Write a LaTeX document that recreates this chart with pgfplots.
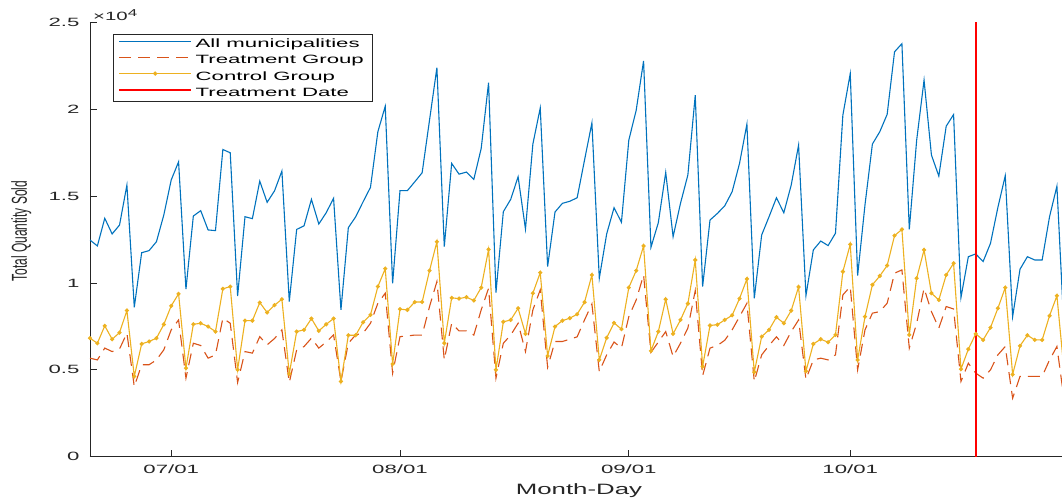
\documentclass[border=0pt]{standalone}
\usepackage{pgfplots}
\pgfplotsset{compat=1.18}
\usepackage{pgfplotstable}
\usepackage{fontspec}
\setmainfont{Liberation Sans}
\usetikzlibrary{calc}
\definecolor{mblue}{rgb}{0,0.447,0.741}
\definecolor{morange}{rgb}{0.85,0.325,0.098}
\definecolor{myellow}{rgb}{0.929,0.694,0.125}
\definecolor{mred}{RGB}{255,0,0}
\definecolor{axgray}{rgb}{0.15,0.15,0.15}

% d = days since 06/20 ; B = all municipalities, T = treatment, C = control (x 10^4)
\pgfplotstableread{
d B T C
0 1.247 0.567 0.682
1 1.213 0.557 0.653
2 1.372 0.625 0.753
3 1.282 0.605 0.676
4 1.333 0.620 0.714
5 1.563 0.711 0.841
6 0.860 0.404 0.462
7 1.174 0.529 0.649
8 1.186 0.529 0.663
9 1.237 0.557 0.682
10 1.391 0.615 0.761
11 1.592 0.730 0.868
12 1.697 0.787 0.937
13 0.964 0.452 0.510
14 1.385 0.653 0.762
15 1.416 0.640 0.768
16 1.305 0.567 0.749
17 1.301 0.586 0.720
18 1.768 0.797 0.966
19 1.749 0.768 0.979
20 0.925 0.427 0.500
21 1.381 0.605 0.783
22 1.370 0.596 0.783
23 1.586 0.691 0.887
24 1.464 0.644 0.830
25 1.530 0.680 0.872
26 1.644 0.730 0.906
27 0.893 0.427 0.477
28 1.308 0.615 0.720
29 1.329 0.634 0.730
30 1.481 0.682 0.795
31 1.339 0.625 0.724
32 1.404 0.660 0.762
33 1.487 0.701 0.795
34 0.845 0.433 0.433
35 1.318 0.653 0.699
36 1.381 0.701 0.699
37 1.467 0.711 0.774
38 1.550 0.768 0.816
39 1.870 0.883 0.979
40 2.017 0.941 1.082
41 0.998 0.481 0.533
42 1.531 0.691 0.849
43 1.531 0.695 0.845
44 1.582 0.700 0.890
45 1.634 0.700 0.890
46 1.937 0.864 1.071
47 2.239 1.008 1.237
48 1.209 0.557 0.653
49 1.688 0.768 0.914
50 1.626 0.724 0.910
51 1.638 0.724 0.918
52 1.596 0.700 0.899
53 1.774 0.845 0.973
54 2.153 0.969 1.193
55 0.944 0.452 0.500
56 1.410 0.653 0.776
57 1.481 0.700 0.787
58 1.611 0.768 0.854
59 1.310 0.605 0.707
60 1.799 0.845 0.941
61 2.007 0.960 1.059
62 1.094 0.515 0.580
63 1.408 0.663 0.749
64 1.458 0.663 0.783
65 1.470 0.676 0.797
66 1.490 0.690 0.820
67 1.707 0.787 0.889
68 1.921 0.879 1.046
69 1.027 0.490 0.557
70 1.282 0.586 0.684
71 1.433 0.660 0.770
72 1.349 0.625 0.734
73 1.822 0.806 0.973
74 1.994 0.902 1.071
75 2.278 1.046 1.213
76 1.205 0.600 0.609
77 1.347 0.660 0.720
78 1.636 0.720 0.906
79 1.266 0.576 0.707
80 1.458 0.653 0.787
81 1.621 0.740 0.881
82 2.080 0.956 1.132
83 0.979 0.466 0.519
84 1.362 0.625 0.755
85 1.400 0.640 0.760
86 1.444 0.670 0.787
87 1.525 0.730 0.814
88 1.688 0.806 0.910
89 1.914 0.883 1.023
90 0.912 0.433 0.487
91 1.276 0.586 0.691
92 1.381 0.640 0.730
93 1.490 0.690 0.803
94 1.404 0.640 0.768
95 1.563 0.720 0.841
96 1.793 0.787 0.977
97 0.927 0.446 0.492
98 1.190 0.557 0.649
99 1.241 0.567 0.676
100 1.215 0.557 0.659
101 1.286 0.586 0.701
102 1.966 0.931 1.065
103 2.205 0.979 1.222
104 1.042 0.500 0.557
105 1.450 0.730 0.806
106 1.799 0.826 0.989
107 1.870 0.835 1.040
108 1.970 0.883 1.100
109 2.330 1.056 1.272
110 2.377 1.075 1.308
111 1.308 0.625 0.701
112 1.822 0.768 1.027
113 2.167 0.969 1.190
114 1.736 0.835 0.941
115 1.615 0.740 0.902
116 1.902 0.864 1.046
117 1.969 0.850 1.113
118 0.916 0.433 0.504
119 1.151 0.538 0.619
120 1.167 0.481 0.707
121 1.123 0.452 0.672
122 1.228 0.500 0.743
123 1.434 0.586 0.854
124 1.617 0.634 0.973
125 0.806 0.337 0.473
126 1.079 0.462 0.638
127 1.151 0.462 0.699
128 1.132 0.462 0.672
129 1.132 0.462 0.672
130 1.381 0.557 0.811
131 1.557 0.634 0.926
132 0.700 0.320 0.480
}\datatable

\pgfplotstableread{
d v
120 0
120 2.5
}\tdate

\newcommand{\hs}[1]{\scalebox{1.85}[1]{#1}}

\begin{document}
\begin{tikzpicture}
\begin{axis}[name=ax, scale only axis, width=972pt, height=434.4pt,
  xmin=0, xmax=131.69, ymin=0, ymax=2.5,
  axis x line*=bottom, axis y line*=left,
  axis line style={axgray, line width=0.8pt},
  tick align=inside, major tick length=7pt,
  tick style={axgray, line width=0.8pt},
  xtick={11,42,73,103},
  xticklabels={\hs{07/01},\hs{08/01},\hs{09/01},\hs{10/01}},
  ytick={0,0.5,1,1.5,2,2.5},
  yticklabels={\hs{0},\hs{0.5},\hs{1},\hs{1.5},\hs{2},\hs{2.5}},
  ticklabel style={text=axgray, font=\fontsize{12}{14}\selectfont},
  xticklabel style={yshift=-5pt},
  yticklabel style={xshift=-7pt},
  xlabel={\scalebox{1.72}[1]{Month-Day}},
  xlabel style={at={(axis description cs:0.503,-0.0776)}, anchor=center, font=\fontsize{15}{18}\selectfont, text=axgray},
  ylabel={\scalebox{1}[1.8]{Total Quantity Sold}},
  ylabel style={at={(axis description cs:-0.0706,0.519)}, anchor=center, font=\fontsize{12}{14}\selectfont, text=axgray},
  clip=true,
  legend cell align=left,
  legend image code/.code={\draw[mark repeat=2,mark phase=2,#1] plot coordinates {(0pt,2.5pt) (36pt,2.5pt) (72pt,2.5pt)};},
  legend style={at={(0.0237,0.973)}, anchor=north west, draw=axgray, line width=0.6pt,
    font=\fontsize{12}{14}\selectfont, text=black, fill=white,
    inner xsep=5pt, inner ysep=2.5pt, row sep=2.1pt,
    nodes={inner xsep=3.5pt, inner ysep=0pt, text height=11pt, text depth=3pt}},
]
\addplot[color=mblue, line width=1.1pt] table[x=d, y=B] {\datatable};
\addlegendentry{\hs{All municipalities}\hspace{7pt}}
\addplot[color=morange, line width=1.1pt, dash pattern=on 12pt off 7pt] table[x=d, y=T] {\datatable};
\addlegendentry{\hs{Treatment Group}}
\addplot[color=myellow, line width=1.1pt, mark=*, mark size=1.5pt, mark options={solid, fill=myellow}] table[x=d, y=C] {\datatable};
\addlegendentry{\hs{Control Group}}
\addplot[color=mred, line width=1.8pt] table[x=d, y=v] {\tdate};
\addlegendentry{\hs{Treatment Date}}
\end{axis}
\node[anchor=west, text=axgray, font=\fontsize{12}{14}\selectfont, inner sep=0pt] at ($(ax.north west)+(3pt,7.3pt)$) {\scalebox{1.7}[1]{×10\raisebox{4pt}{\fontsize{10}{12}\selectfont 4}}};
\pgfresetboundingbox
\path[use as bounding box] ($(ax.south west)+(-90pt,-45.3pt)$) rectangle ++(1062pt,502pt);
\end{tikzpicture}
\end{document}
